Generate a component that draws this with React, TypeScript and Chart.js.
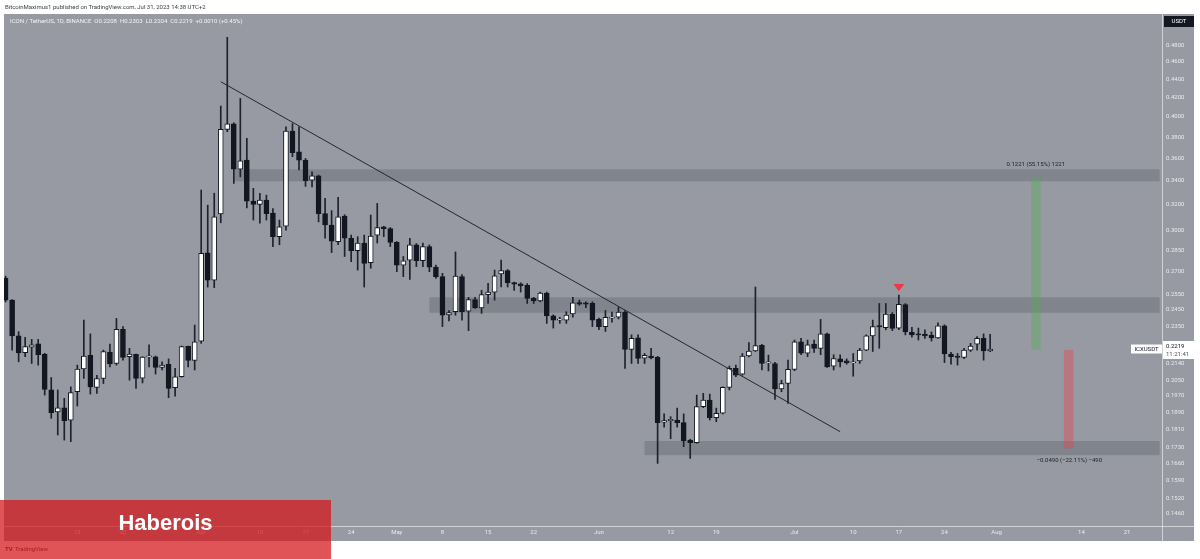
import React, { useEffect, useRef } from 'react';
import { Chart, registerables } from 'chart.js';

Chart.register(...registerables);

// ---------------- data ----------------
const START_DATE = '2023-03-02';

const OPEN = [
  0.2657, 0.2512, 0.2294, 0.2198, 0.2230, 0.2249, 0.2191, 0.2001, 0.1891, 0.1911,
  0.1852, 0.1991, 0.2109, 0.2184, 0.2013, 0.2059, 0.2202, 0.2139, 0.2333, 0.2176,
  0.2189, 0.2061, 0.2175, 0.2176, 0.2118, 0.2135, 0.2011, 0.2068, 0.2234, 0.2155,
  0.2264, 0.2833, 0.2643, 0.3126, 0.3874, 0.3929, 0.3502, 0.3584, 0.3230, 0.3203,
  0.3238, 0.3134, 0.2951, 0.3031, 0.3858, 0.3659, 0.3584, 0.3407, 0.3444, 0.3129,
  0.3040, 0.2914, 0.3110, 0.2939, 0.2848, 0.2904, 0.2762, 0.2962, 0.3026, 0.3012,
  0.2909, 0.2746, 0.2781, 0.2891, 0.2776, 0.2878, 0.2731, 0.2666, 0.2420, 0.2439,
  0.2666, 0.2442, 0.2516, 0.2463, 0.2547, 0.2564, 0.2685, 0.2707, 0.2627, 0.2618,
  0.2609, 0.2523, 0.2507, 0.2557, 0.2414, 0.2388, 0.2388, 0.2425, 0.2497, 0.2495,
  0.2491, 0.2392, 0.2349, 0.2400, 0.2405, 0.2437, 0.2217, 0.2283, 0.2168, 0.2180,
  0.2172, 0.1843, 0.1850, 0.1853, 0.1841, 0.1761, 0.1749, 0.1917, 0.1949, 0.1864,
  0.1885, 0.2013, 0.2113, 0.2082, 0.2180, 0.2208, 0.2240, 0.2142, 0.2139, 0.2005,
  0.2033, 0.2107, 0.2260, 0.2196, 0.2247, 0.2223, 0.2306, 0.2124, 0.2164, 0.2153,
  0.2142, 0.2153, 0.2213, 0.2294, 0.2355, 0.2342, 0.2425, 0.2340, 0.2484, 0.2315,
  0.2306, 0.2304, 0.2298, 0.2283, 0.2353, 0.2191, 0.2180, 0.2172, 0.2213, 0.2247,
  0.2280, 0.2208,
];
const HIGH = [
  0.2670, 0.2515, 0.2319, 0.2286, 0.2274, 0.2274, 0.2195, 0.2064, 0.2000, 0.1958,
  0.2016, 0.2130, 0.2388, 0.2306, 0.2076, 0.2213, 0.2247, 0.2398, 0.2349, 0.2223,
  0.2190, 0.2176, 0.2242, 0.2180, 0.2148, 0.2164, 0.2113, 0.2236, 0.2236, 0.2358,
  0.3322, 0.3197, 0.3295, 0.4111, 0.4895, 0.3940, 0.4192, 0.3787, 0.3336, 0.3295,
  0.3279, 0.3170, 0.3078, 0.3901, 0.3932, 0.3901, 0.3599, 0.3479, 0.3450, 0.3252,
  0.3153, 0.3260, 0.3120, 0.2963, 0.2951, 0.2963, 0.3118, 0.3211, 0.3030, 0.3020,
  0.2915, 0.2806, 0.2939, 0.2900, 0.2904, 0.2890, 0.2746, 0.2689, 0.2447, 0.2839,
  0.2680, 0.2530, 0.2530, 0.2575, 0.2622, 0.2711, 0.2781, 0.2715, 0.2630, 0.2625,
  0.2620, 0.2530, 0.2564, 0.2564, 0.2420, 0.2405, 0.2439, 0.2530, 0.2512, 0.2502,
  0.2502, 0.2400, 0.2447, 0.2437, 0.2467, 0.2447, 0.2300, 0.2300, 0.2194, 0.2223,
  0.2178, 0.1882, 0.1869, 0.1910, 0.1882, 0.1765, 0.1974, 0.1983, 0.1979, 0.1910,
  0.2016, 0.2125, 0.2130, 0.2194, 0.2255, 0.2597, 0.2245, 0.2185, 0.2145, 0.2050,
  0.2157, 0.2270, 0.2280, 0.2270, 0.2270, 0.2392, 0.2310, 0.2187, 0.2187, 0.2164,
  0.2194, 0.2223, 0.2300, 0.2388, 0.2491, 0.2491, 0.2434, 0.2545, 0.2490, 0.2344,
  0.2340, 0.2330, 0.2317, 0.2372, 0.2360, 0.2200, 0.2194, 0.2223, 0.2251, 0.2290,
  0.2306, 0.2303,
];
const LOW = [
  0.2500, 0.2213, 0.2148, 0.2176, 0.2139, 0.2130, 0.1974, 0.1861, 0.1784, 0.1761,
  0.1754, 0.1920, 0.2059, 0.1979, 0.1982, 0.2033, 0.2121, 0.2130, 0.2157, 0.2050,
  0.2008, 0.2036, 0.2121, 0.2082, 0.2104, 0.1961, 0.1969, 0.2066, 0.2121, 0.2104,
  0.2251, 0.2597, 0.2593, 0.3057, 0.3852, 0.3378, 0.3435, 0.3175, 0.3078, 0.3053,
  0.3078, 0.2878, 0.2891, 0.3000, 0.3615, 0.3496, 0.3353, 0.3348, 0.3064, 0.2939,
  0.2834, 0.2891, 0.2806, 0.2769, 0.2711, 0.2597, 0.2724, 0.2904, 0.2951, 0.2878,
  0.2700, 0.2666, 0.2648, 0.2735, 0.2735, 0.2700, 0.2655, 0.2349, 0.2383, 0.2418,
  0.2388, 0.2325, 0.2460, 0.2429, 0.2491, 0.2512, 0.2597, 0.2597, 0.2575, 0.2564,
  0.2491, 0.2491, 0.2501, 0.2368, 0.2340, 0.2368, 0.2368, 0.2405, 0.2480, 0.2465,
  0.2349, 0.2330, 0.2320, 0.2375, 0.2395, 0.2112, 0.2139, 0.2139, 0.2139, 0.2164,
  0.1660, 0.1820, 0.1767, 0.1820, 0.1732, 0.1681, 0.1747, 0.1912, 0.1853, 0.1845,
  0.1882, 0.2000, 0.2068, 0.2076, 0.2175, 0.2205, 0.2104, 0.2099, 0.1952, 0.1991,
  0.1933, 0.2100, 0.2187, 0.2176, 0.2200, 0.2187, 0.2118, 0.2104, 0.2121, 0.2135,
  0.2071, 0.2139, 0.2210, 0.2205, 0.2223, 0.2330, 0.2325, 0.2330, 0.2300, 0.2286,
  0.2270, 0.2280, 0.2264, 0.2280, 0.2144, 0.2135, 0.2130, 0.2165, 0.2205, 0.2213,
  0.2157, 0.2204,
];
const CLOSE = [
  0.2512, 0.2294, 0.2197, 0.2232, 0.2243, 0.2187, 0.2003, 0.1888, 0.1911, 0.1850,
  0.1987, 0.2109, 0.2180, 0.2016, 0.2059, 0.2204, 0.2137, 0.2333, 0.2172, 0.2191,
  0.2059, 0.2174, 0.2177, 0.2118, 0.2130, 0.2008, 0.2068, 0.2232, 0.2155, 0.2260,
  0.2828, 0.2643, 0.3104, 0.3874, 0.3929, 0.3502, 0.3577, 0.3230, 0.3203, 0.3238,
  0.3129, 0.2951, 0.3026, 0.3858, 0.3653, 0.3584, 0.3401, 0.3444, 0.3129, 0.3040,
  0.2918, 0.3104, 0.2939, 0.2848, 0.2904, 0.2758, 0.2956, 0.3020, 0.3012, 0.2909,
  0.2746, 0.2776, 0.2891, 0.2776, 0.2878, 0.2731, 0.2666, 0.2418, 0.2434, 0.2670,
  0.2439, 0.2516, 0.2463, 0.2547, 0.2564, 0.2672, 0.2707, 0.2625, 0.2616, 0.2605,
  0.2523, 0.2507, 0.2557, 0.2414, 0.2388, 0.2394, 0.2418, 0.2495, 0.2486, 0.2486,
  0.2388, 0.2349, 0.2405, 0.2405, 0.2437, 0.2217, 0.2280, 0.2166, 0.2183, 0.2169,
  0.1841, 0.1850, 0.1856, 0.1841, 0.1758, 0.1749, 0.1917, 0.1949, 0.1864, 0.1885,
  0.2013, 0.2113, 0.2076, 0.2180, 0.2208, 0.2238, 0.2139, 0.2145, 0.2005, 0.2033,
  0.2107, 0.2260, 0.2196, 0.2243, 0.2223, 0.2306, 0.2121, 0.2166, 0.2148, 0.2142,
  0.2148, 0.2213, 0.2294, 0.2349, 0.2347, 0.2425, 0.2338, 0.2486, 0.2317, 0.2300,
  0.2300, 0.2294, 0.2283, 0.2353, 0.2191, 0.2176, 0.2172, 0.2213, 0.2236, 0.2280,
  0.2208, 0.2219,
];

const PRICE_TICKS = [
  0.48, 0.46, 0.44, 0.42, 0.40, 0.38, 0.36, 0.34, 0.32, 0.30, 0.285, 0.27, 0.255,
  0.245, 0.235, 0.223, 0.214, 0.205, 0.197, 0.189, 0.181, 0.173, 0.166, 0.159,
  0.152, 0.146,
];

const TIME_TICK_DATES = [
  '2023-03-13', '2023-03-20', '2023-04-01', '2023-04-10', '2023-04-17', '2023-04-24',
  '2023-05-01', '2023-05-08', '2023-05-15', '2023-05-22', '2023-06-01', '2023-06-12',
  '2023-06-19', '2023-07-01', '2023-07-10', '2023-07-17', '2023-07-24', '2023-08-01',
  '2023-08-14', '2023-08-21',
];
const TIME_TICK_LABELS = [
  '13', '20', 'Apr', '10', '17', '24', 'May', '8', '15', '22', 'Jun', '12', '19',
  'Jul', '10', '17', '24', 'Aug', '14', '21',
];

const ZONE_FROM = ['2023-04-06', '2023-05-06', '2023-06-08'];
const ZONE_TO = ['2023-08-26', '2023-08-26', '2023-08-26'];
const ZONE_HIGH = [0.3501, 0.2530, 0.1757];
const ZONE_LOW = [0.3396, 0.2433, 0.1695];

const TREND_DATES = ['2023-04-04', '2023-07-08'];
const TREND_PRICES = [0.4373, 0.1799];

const MARKER_DATE = '2023-07-17';
const MARKER_PRICE = 0.2594;

const MEASURE_DATES = ['2023-08-07', '2023-08-12'];
const MEASURE_FROM = [0.2214, 0.2214];
const MEASURE_TO = [0.3435, 0.1724];
const MEASURE_TEXT = ['0.1221 (55.15%) 1221', '\u22120.0490 (\u221222.11%) \u2212490'];

const LAST_PRICE = 0.2219;
const LAST_PRICE_TEXT = '0.2219';
const COUNTDOWN_TEXT = '11:21:41';
const SYMBOL_TEXT = 'ICXUSDT';
const CURRENCY_TEXT = 'USDT';
const LEGEND_TEXT = 'ICON / TetherUS, 1D, BINANCE  O0.2208  H0.2303  L0.2204  C0.2219  +0.0010 (+0.45%)';
const HEADER_TEXT = 'BitcoinMaximus1 published on TradingView.com, Jul 31, 2023 14:38 UTC+2';
const WATERMARK_TEXT = 'Haberois';

// ---------------- styling ----------------
const FONT = 'Roboto, "Liberation Sans", sans-serif';
const PANEL = '#979aa2';
const TEXT_LIGHT = '#e9eaee';
const DARK = '#131722';

const dayIndex = (d: string) => Math.round((Date.parse(d) - Date.parse(START_DATE)) / 86400000);

const decorPlugin = {
  id: 'decor',
  beforeDraw(chart: any) {
    const { ctx, chartArea: ca, scales } = chart;
    const xs = scales.x;
    const ys = scales.y;
    ctx.save();
    ctx.fillStyle = '#ffffff';
    ctx.fillRect(0, 0, chart.width, chart.height);
    ctx.fillStyle = PANEL;
    ctx.fillRect(ca.left, ca.top, ys.right - ca.left, xs.bottom - ca.top);
    ctx.restore();
  },
  beforeDatasetsDraw(chart: any) {
    const { ctx, chartArea: ca, scales } = chart;
    const xs = scales.x;
    const ys = scales.y;
    ctx.save();
    ctx.beginPath();
    ctx.rect(ca.left, ca.top, ca.right - ca.left, ca.bottom - ca.top);
    ctx.clip();
    // zones
    ctx.fillStyle = 'rgba(40,44,56,0.2)';
    for (let i = 0; i < ZONE_FROM.length; i++) {
      const x1 = xs.getPixelForValue(dayIndex(ZONE_FROM[i]));
      const x2 = xs.getPixelForValue(dayIndex(ZONE_TO[i]));
      const y1 = ys.getPixelForValue(ZONE_HIGH[i]);
      const y2 = ys.getPixelForValue(ZONE_LOW[i]);
      ctx.fillRect(x1, y1, x2 - x1, y2 - y1);
    }
    // measure bars
    const colors = ['rgba(76,175,80,0.35)', 'rgba(242,54,69,0.35)'];
    for (let i = 0; i < MEASURE_DATES.length; i++) {
      const cx = xs.getPixelForValue(dayIndex(MEASURE_DATES[i]));
      const y1 = ys.getPixelForValue(MEASURE_FROM[i]);
      const y2 = ys.getPixelForValue(MEASURE_TO[i]);
      ctx.fillStyle = colors[i];
      ctx.fillRect(cx - 4.5, Math.min(y1, y2), 9.5, Math.abs(y2 - y1));
    }
    ctx.restore();
  },
  afterDatasetsDraw(chart: any) {
    const { ctx, chartArea: ca, scales } = chart;
    const xs = scales.x;
    const ys = scales.y;
    ctx.save();
    // separators
    ctx.strokeStyle = 'rgba(255,255,255,0.55)';
    ctx.lineWidth = 1;
    ctx.beginPath();
    ctx.moveTo(ca.left, Math.round(xs.top) + 0.5);
    ctx.lineTo(ys.right, Math.round(xs.top) + 0.5);
    ctx.moveTo(Math.round(ys.left) + 0.5, ca.top);
    ctx.lineTo(Math.round(ys.left) + 0.5, xs.bottom);
    ctx.stroke();

    // marker
    const mx = xs.getPixelForValue(dayIndex(MARKER_DATE));
    const my = ys.getPixelForValue(MARKER_PRICE);
    ctx.fillStyle = '#f23645';
    ctx.beginPath();
    ctx.moveTo(mx - 5.5, my - 3.6);
    ctx.lineTo(mx + 5.5, my - 3.6);
    ctx.lineTo(mx, my + 3.8);
    ctx.closePath();
    ctx.fill();

    // measure labels
    ctx.font = `6px ${FONT}`;
    ctx.fillStyle = '#1e222d';
    ctx.textAlign = 'center';
    ctx.textBaseline = 'middle';
    for (let i = 0; i < MEASURE_DATES.length; i++) {
      const cx = xs.getPixelForValue(dayIndex(MEASURE_DATES[i]));
      const yEnd = ys.getPixelForValue(MEASURE_TO[i]);
      const up = MEASURE_TO[i] > MEASURE_FROM[i];
      ctx.fillText(MEASURE_TEXT[i], cx + (i === 0 ? 0 : 1), up ? yEnd - 12 : yEnd + 12);
    }

    // legend
    ctx.textAlign = 'left';
    ctx.fillStyle = '#f2f3f5';
    ctx.font = `6px ${FONT}`;
    ctx.fillText(LEGEND_TEXT, ca.left + 6, ca.top + 7);

    // currency box
    ctx.fillStyle = DARK;
    ctx.fillRect(ys.left + 2, ca.top + 2, 30, 11);
    ctx.fillStyle = '#ffffff';
    ctx.textAlign = 'center';
    ctx.fillText(CURRENCY_TEXT, ys.left + 17, ca.top + 7.5);

    // last price box
    const py = ys.getPixelForValue(LAST_PRICE);
    ctx.fillStyle = '#ffffff';
    ctx.fillRect(ys.left + 1, py - 8, ys.right - ys.left - 1, 18);
    ctx.fillStyle = '#131722';
    ctx.textAlign = 'left';
    ctx.fillText(LAST_PRICE_TEXT, ys.left + 4, py - 3);
    ctx.fillStyle = '#50535e';
    ctx.fillText(COUNTDOWN_TEXT, ys.left + 4, py + 5);

    // symbol label
    ctx.fillStyle = '#ffffff';
    ctx.fillRect(ys.left - 31, py - 4.5, 31, 9);
    ctx.fillStyle = '#131722';
    ctx.textAlign = 'center';
    ctx.fillText(SYMBOL_TEXT, ys.left - 15.5, py);

    // tradingview logo text (bottom-left, below the panel)
    ctx.textAlign = 'left';
    ctx.fillStyle = '#2a2e39';
    ctx.font = `bold 6px ${FONT}`;
    ctx.fillText('TV', 5, xs.bottom + 8);
    ctx.font = `6px ${FONT}`;
    ctx.fillText('TradingView', 15, xs.bottom + 8);
    ctx.restore();
  },
};

export default function App() {
  const canvasRef = useRef<HTMLCanvasElement | null>(null);

  useEffect(() => {
    const canvas = canvasRef.current;
    if (!canvas) return;
    const idx = OPEN.map((_, i) => i);
    const wickData = idx.map((i) => ({ x: i, y: [LOW[i], HIGH[i]] }));
    const bodyData = idx.map((i) => ({ x: i, y: [OPEN[i], CLOSE[i]] }));
    const upColors = idx.map((i) => (CLOSE[i] >= OPEN[i] ? '#ffffff' : DARK));
    const trendData = TREND_DATES.map((d, i) => ({ x: dayIndex(d), y: TREND_PRICES[i] }));
    const tickDays = TIME_TICK_DATES.map(dayIndex);

    const chart = new Chart(canvas, {
      type: 'bar',
      data: {
        datasets: [
          {
            type: 'line',
            data: trendData,
            borderColor: '#23262f',
            borderWidth: 1,
            pointRadius: 0,
            order: 0,
          } as any,
          {
            data: bodyData,
            backgroundColor: upColors,
            borderColor: DARK,
            borderWidth: 1,
            borderSkipped: false,
            barThickness: 5,
            grouped: false,
            minBarLength: 1,
            order: 1,
          } as any,
          {
            data: wickData,
            backgroundColor: '#1e222d',
            barThickness: 1,
            grouped: false,
            order: 2,
          } as any,
        ],
      },
      options: {
        responsive: false,
        maintainAspectRatio: false,
        animation: false,
        devicePixelRatio: 1,
        events: [],
        layout: { padding: { left: 4, top: 14, right: 6, bottom: 18 } },
        plugins: { legend: { display: false }, tooltip: { enabled: false }, title: { display: false } },
        scales: {
          x: {
            type: 'linear',
            min: -0.245,
            max: 177.36,
            offset: false,
            grid: { display: false, drawTicks: false },
            border: { display: false },
            ticks: {
              autoSkip: false,
              maxRotation: 0,
              padding: 3,
              color: TEXT_LIGHT,
              font: { size: 6, family: FONT },
              callback: (v: any) => {
                const k = tickDays.indexOf(Number(v));
                return k >= 0 ? TIME_TICK_LABELS[k] : '';
              },
            },
            afterBuildTicks: (s: any) => {
              s.ticks = tickDays.map((v) => ({ value: v }));
            },
            afterFit: (s: any) => {
              s.height = 15;
            },
          } as any,
          y: {
            type: 'logarithmic',
            position: 'right',
            min: 0.1416,
            max: 0.5193,
            grid: { display: false, drawTicks: false },
            border: { display: false },
            ticks: {
              autoSkip: false,
              padding: 4,
              color: TEXT_LIGHT,
              font: { size: 6, family: FONT },
              callback: (v: any) => Number(v).toFixed(4),
            },
            afterBuildTicks: (s: any) => {
              s.ticks = PRICE_TICKS.map((v) => ({ value: v }));
            },
            afterFit: (s: any) => {
              s.width = 32;
            },
          } as any,
        },
      },
      plugins: [decorPlugin],
    });
    return () => chart.destroy();
  }, []);

  return (
    <div
      style={{
        position: 'fixed',
        left: 0,
        top: 0,
        width: 1200,
        height: 559,
        background: '#ffffff',
        overflow: 'hidden',
      }}
    >
      <canvas ref={canvasRef} width={1200} height={559} style={{ position: 'absolute', left: 0, top: 0 }} />
      <div
        style={{
          position: 'absolute',
          left: 5,
          top: 3,
          fontFamily: FONT,
          fontSize: 6,
          lineHeight: '8px',
          color: '#3a3d45',
          whiteSpace: 'nowrap',
        }}
      >
        {HEADER_TEXT}
      </div>
      <div
        style={{
          position: 'absolute',
          left: 0,
          top: 500,
          width: 331,
          height: 59,
          background: 'rgba(212,21,24,0.73)',
        }}
      >
        <div
          style={{
            position: 'absolute',
            left: 0,
            width: 331,
            top: 11,
            textAlign: 'center',
            fontFamily: '"Liberation Sans", Arial, sans-serif',
            fontWeight: 700,
            fontSize: 22,
            lineHeight: '24px',
            color: '#ffffff',
          }}
        >
          {WATERMARK_TEXT}
        </div>
      </div>
    </div>
  );
}
